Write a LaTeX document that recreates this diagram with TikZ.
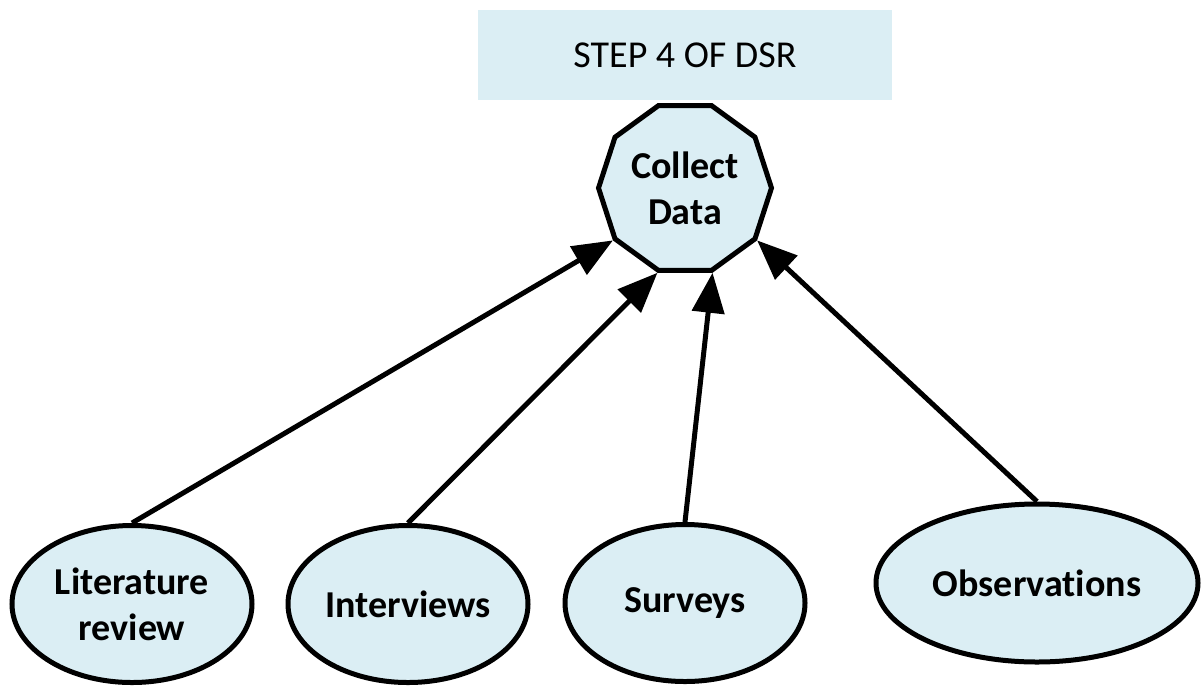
\documentclass[tikz,border=0pt]{standalone}
\usepackage{fontspec}
\setmainfont{Carlito}[Ligatures=NoCommon]
\usetikzlibrary{shapes.geometric,arrows.meta}
\definecolor{fillblue}{RGB}{219,238,244}
\begin{document}
\begin{tikzpicture}[x=1pt,y=-1pt,
  blob/.style={ellipse, draw, line width=5pt, fill=fillblue, inner sep=0pt,
    font=\fontsize{38}{46}\selectfont\bfseries, align=center},
  smallblob/.style={blob, minimum width=240pt, minimum height=157pt},
  deca/.style={regular polygon, regular polygon sides=10, draw, line width=5pt,
    fill=fillblue, inner sep=0pt, minimum size=173pt,
    font=\fontsize{38}{46}\selectfont\bfseries, align=center},
  banner/.style={fill=fillblue, inner sep=0pt, minimum width=414pt, minimum height=90pt,
    font=\fontsize{38}{44}\selectfont},
  conn/.style={line width=5pt, -{Triangle[length=40pt,width=32pt]}},
]
\useasboundingbox (0,0) rectangle (1201,686);
\node[banner] (title) at (685,55) {STEP 4 OF DSR};
\node[deca] (dec) at (685,188) {Collect\\Data};
\node[smallblob] (lit) at (132,604) {Literature\\review};
\node[smallblob] (int) at (408,604) {Interviews};
\node[smallblob] (sur) at (685,603) {Surveys};
\node[blob, minimum width=322pt, minimum height=158pt] (obs) at (1037,583) {Observations};
\draw[conn] (lit.north) -- (dec.corner 5);
\draw[conn] (int.north) -- (dec.corner 6);
\draw[conn] (sur.north) -- (dec.corner 7);
\draw[conn] (obs.north) -- (dec.corner 8);
\end{tikzpicture}
\end{document}
